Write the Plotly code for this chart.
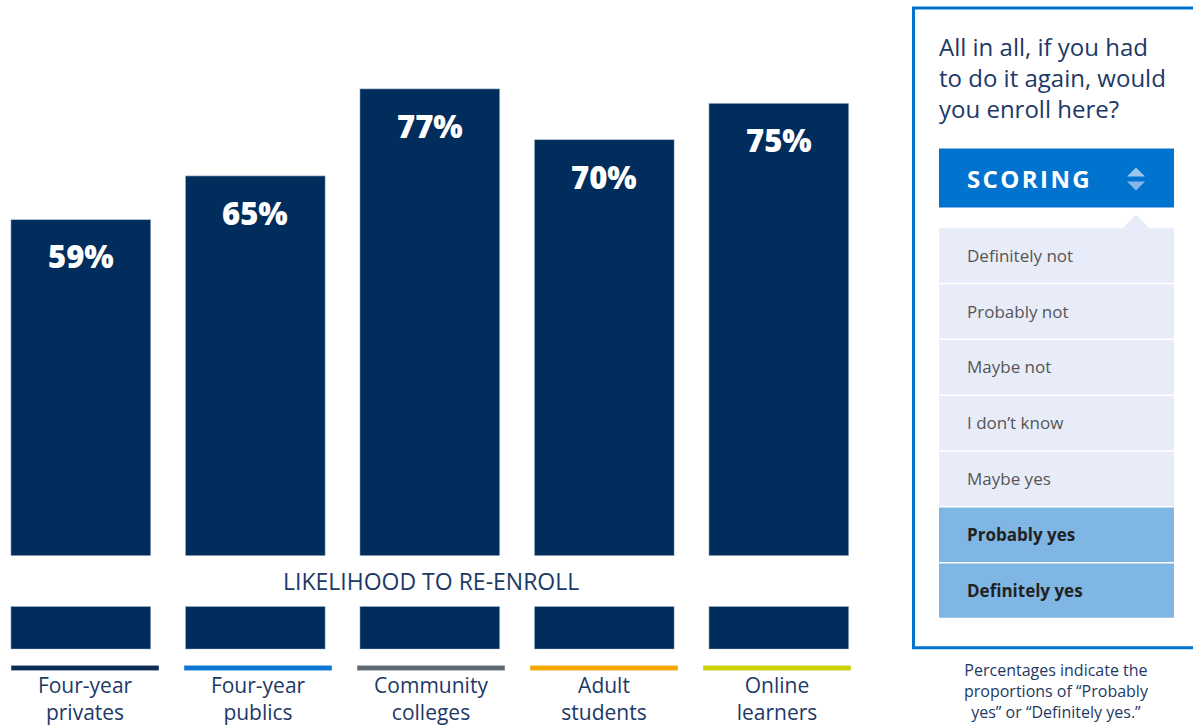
import plotly.graph_objects as go

W, H = 1193, 726

# ---------------- data ----------------
categories = ["Four-year privates", "Four-year publics", "Community colleges",
              "Adult students", "Online learners"]
tick_labels = ["Four-year<br>privates", "Four-year<br>publics", "Community<br>colleges",
               "Adult<br>students", "Online<br>learners"]
reenroll_pct = [59, 65, 77, 70, 75]
strip_values = [1, 1, 1, 1, 1]
segment_colors = ["#0d2d57", "#0a77d2", "#5f6870", "#f5a800", "#cdd400"]

axis_caption = "LIKELIHOOD TO RE-ENROLL"
question_text = "All in all, if you had<br>to do it again, would<br>you enroll here?"
scoring_label = "SCORING"
scoring_options = ["Definitely not", "Probably not", "Maybe not", "I don’t know",
                   "Maybe yes", "Probably yes", "Definitely yes"]
scoring_counted = [False, False, False, False, False, True, True]
footnote = "Percentages indicate the<br>proportions of “Probably<br>yes” or “Definitely yes.”"

# ---------------- styles ----------------
NAVY = "#002d5c"
TEXT = "#1d3966"
BLUE = "#0073cf"
LAV = "#e8ecf8"
HIL = "#80b6e3"
FONT = "Open Sans"

def fx(p):
    return p / W

def fy(p):
    return 1 - p / H

def cat_range(center0, pitch):
    return [-center0 / pitch, (W - center0) / pitch]

fig = go.Figure()

fig.add_trace(go.Bar(x=categories, y=reenroll_pct, marker_color=NAVY, width=0.802,
                     xaxis="x", yaxis="y", hoverinfo="skip"))
fig.add_trace(go.Bar(x=categories, y=strip_values, marker_color=NAVY, width=0.802,
                     xaxis="x2", yaxis="y2", hoverinfo="skip"))
fig.add_trace(go.Bar(x=categories, y=strip_values, marker_color=segment_colors, width=148 / 173,
                     xaxis="x3", yaxis="y3", hoverinfo="skip"))

annotations = []
for c, v in zip(categories, reenroll_pct):
    annotations.append(dict(x=c, y=v, xref="x", yref="y", yshift=-37, showarrow=False,
                            text=f"{v}%", yanchor="middle",
                            font=dict(family=FONT, size=31, color="white", weight=800)))

annotations.append(dict(x=fx(431), y=fy(583), xref="paper", yref="paper", showarrow=False,
                        text=axis_caption, xanchor="center", yanchor="middle",
                        font=dict(family=FONT, size=23, color=TEXT)))

# right panel
shapes = []
shapes.append(dict(type="rect", xref="paper", yref="paper", x0=fx(913.5), x1=fx(1200),
                   y0=fy(8), y1=fy(649.5), line=dict(color=BLUE, width=3), fillcolor="rgba(0,0,0,0)"))
annotations.append(dict(x=fx(937), y=fy(78), xref="paper", yref="paper", showarrow=False,
                        text=question_text, xanchor="left", yanchor="middle", align="left",
                        font=dict(family=FONT, size=24, color=TEXT)))
shapes.append(dict(type="rect", xref="paper", yref="paper", x0=fx(939), x1=fx(1174),
                   y0=fy(149), y1=fy(208), line=dict(width=0), fillcolor=BLUE))
annotations.append(dict(x=fx(965), y=fy(179), xref="paper", yref="paper", showarrow=False,
                        text="\u200a".join(scoring_label), xanchor="left", yanchor="middle",
                        font=dict(family=FONT, size=24, color="white", weight=700)))
# sort icon
shapes.append(dict(type="path", xref="paper", yref="paper",
                   path=f"M {fx(1127)},{fy(177)} L {fx(1145)},{fy(177)} L {fx(1136)},{fy(168)} Z",
                   fillcolor="#9cc6ee", line=dict(width=0)))
shapes.append(dict(type="path", xref="paper", yref="paper",
                   path=f"M {fx(1127)},{fy(182)} L {fx(1145)},{fy(182)} L {fx(1136)},{fy(191)} Z",
                   fillcolor="#84b8e9", line=dict(width=0)))
# pointer notch
shapes.append(dict(type="path", xref="paper", yref="paper",
                   path=f"M {fx(1122)},{fy(229.5)} L {fx(1150)},{fy(229.5)} L {fx(1136)},{fy(215)} Z",
                   fillcolor=LAV, line=dict(width=0)))

ROW_TOP, ROW_H, ROW_GAP = 229, 54, 2
for i, (opt, counted) in enumerate(zip(scoring_options, scoring_counted)):
    top = ROW_TOP + i * (ROW_H + ROW_GAP)
    shapes.append(dict(type="rect", xref="paper", yref="paper", x0=fx(939), x1=fx(1174),
                       y0=fy(top), y1=fy(top + ROW_H + 0.5), line=dict(width=0),
                       fillcolor=HIL if counted else LAV))
    annotations.append(dict(x=fx(965), y=fy(top + ROW_H / 2), xref="paper", yref="paper",
                            showarrow=False, text=f"<b>{opt}</b>" if counted else opt,
                            xanchor="left", yanchor="middle",
                            font=dict(family=FONT, size=17,
                                      color="#222222" if counted else "#555555")))

annotations.append(dict(x=fx(1056), y=fy(693), xref="paper", yref="paper", showarrow=False,
                        text=footnote, xanchor="center", yanchor="middle", align="center",
                        font=dict(family=FONT, size=16, color=TEXT)))

hidden = dict(showgrid=False, zeroline=False, showline=False, showticklabels=False, ticks="")

fig.update_layout(
    width=W, height=H, margin=dict(l=0, r=0, t=0, b=0),
    paper_bgcolor="white", plot_bgcolor="white", showlegend=False,
    barmode="overlay",
    xaxis=dict(domain=[0, 1], range=cat_range(80.8, 174.5), type="category", **hidden),
    xaxis2=dict(domain=[0, 1], range=cat_range(80.8, 174.5), type="category", anchor="y2", **hidden),
    xaxis3=dict(domain=[0, 1], range=cat_range(85, 173), type="category", anchor="y3",
                showgrid=False, zeroline=False, showline=False, ticks="",
                tickvals=categories, ticktext=tick_labels,
                tickfont=dict(family=FONT, size=21, color=TEXT)),
    yaxis=dict(domain=[fy(557), 1], range=[12.7, 12.7 + 557 / 7.278], anchor="x", **hidden),
    yaxis2=dict(domain=[fy(651), fy(608)], range=[0, 1], anchor="x2", **hidden),
    yaxis3=dict(domain=[fy(672.5), fy(667)], range=[0, 1], anchor="x3", **hidden),
    annotations=annotations, shapes=shapes,
)

fig.write_html("out.html")
